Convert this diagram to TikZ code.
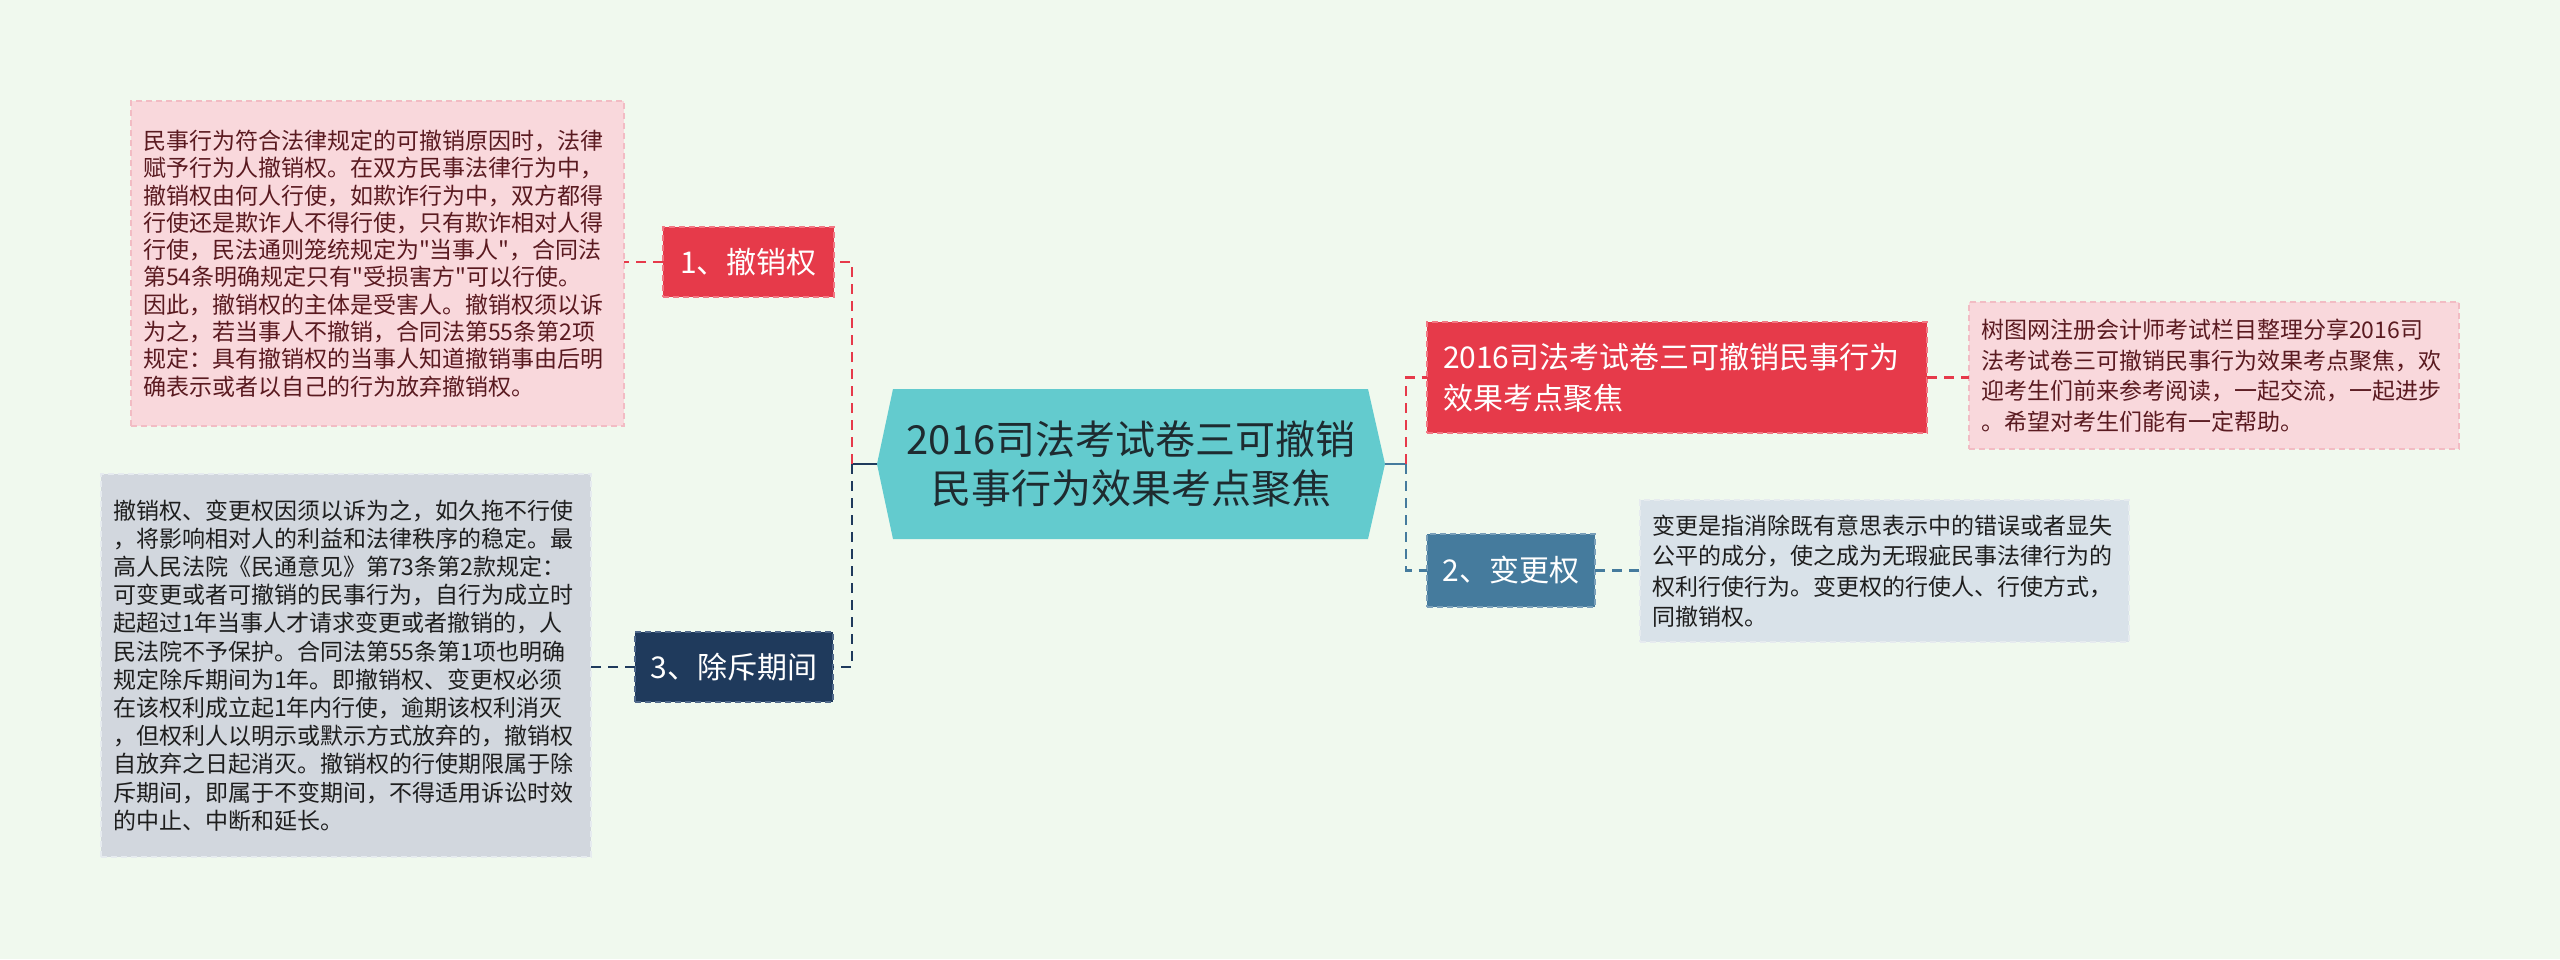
\documentclass[tikz,border=0pt]{standalone}
\usepackage{fontspec}
\setmainfont{Noto Sans CJK SC}[Ligatures=TeXOff]
\usetikzlibrary{backgrounds}
\definecolor{bg}{HTML}{F0F9EE}
\definecolor{pinkfill}{HTML}{F9D8DC}
\definecolor{pinkline}{HTML}{F2BCC4}
\definecolor{pinktext}{HTML}{5A1A20}
\definecolor{redfill}{HTML}{E63A4A}
\definecolor{redline}{HTML}{F27884}
\definecolor{navyfill}{HTML}{1F3A5C}
\definecolor{navyline}{HTML}{50688A}
\definecolor{steelfill}{HTML}{457B9D}
\definecolor{steelline}{HTML}{7AA0BA}
\definecolor{grayfill}{HTML}{D2D7DE}
\definecolor{grayfillb}{HTML}{D9E2E9}
\definecolor{grayline}{HTML}{E6EBEF}
\definecolor{graytext}{HTML}{1E1E1E}
\definecolor{tealfill}{HTML}{63CBCE}
\definecolor{centertext}{HTML}{1E2B30}
\begin{document}
\begin{tikzpicture}[x=1pt,y=-1pt,
  box/.style={rectangle, outer sep=0pt, inner ysep=0pt, line width=1.2pt, dash pattern=on 6pt off 4pt},
  notepink/.style={box, fill=pinkfill, draw=pinkline, text=pinktext, align=left, inner xsep=12pt,
     font=\fontsize{23}{27.3}\selectfont},
  notegray/.style={box, fill=grayfill, draw=grayline, text=graytext, align=left, inner xsep=12pt,
     font=\fontsize{23}{28.2}\selectfont},
  topicbox/.style={box, text=white, align=center, inner xsep=8pt, font=\fontsize{30}{36}\selectfont},
  link/.style={line width=2.5pt, dash pattern=on 10pt off 7pt},
]
\useasboundingbox (0,0) rectangle (2560,959);

% central topic
\node[rectangle, outer sep=0pt, inner sep=0pt, minimum width=508pt, minimum height=150pt,
      text=centertext, align=center, font=\fontsize{40}{49}\selectfont]
  (c) at (1131,464) {2016司法考试卷三可撤销\\民事行为效果考点聚焦};

% left branch
\node[topicbox, fill=redfill, draw=redline, minimum width=171pt, minimum height=70pt]
  (b1) at (748.5,262) {1、撤销权};
\node[notepink, text width=469pt, minimum width=493pt, minimum height=325pt]
  (n1) at (377.5,263.5) {民事行为符合法律规定的可撤销原因时，法律\\
赋予行为人撤销权。在双方民事法律行为中，\\
撤销权由何人行使，如欺诈行为中，双方都得\\
行使还是欺诈人不得行使，只有欺诈相对人得\\
行使，民法通则笼统规定为"当事人"，合同法\\
第54条明确规定只有"受损害方"可以行使。\\
因此，撤销权的主体是受害人。撤销权须以诉\\
为之，若当事人不撤销，合同法第55条第2项\\
规定：具有撤销权的当事人知道撤销事由后明\\
确表示或者以自己的行为放弃撤销权。};

\node[topicbox, fill=navyfill, draw=navyline, minimum width=198pt, minimum height=70pt]
  (b3) at (734,667) {3、除斥期间};
\node[notegray, text width=466pt, minimum width=490pt, minimum height=383pt]
  (n3) at (346,665.5) {撤销权、变更权因须以诉为之，如久拖不行使\\
，将影响相对人的利益和法律秩序的稳定。最\\
高人民法院《民通意见》第73条第2款规定：\\
可变更或者可撤销的民事行为，自行为成立时\\
起超过1年当事人才请求变更或者撤销的，人\\
民法院不予保护。合同法第55条第1项也明确\\
规定除斥期间为1年。即撤销权、变更权必须\\
在该权利成立起1年内行使，逾期该权利消灭\\
，但权利人以明示或默示方式放弃的，撤销权\\
自放弃之日起消灭。撤销权的行使期限属于除\\
斥期间，即属于不变期间，不得适用诉讼时效\\
的中止、中断和延长。};

% right branch
\node[box, fill=redfill, draw=redline, text=white, align=left, inner xsep=16pt,
      text width=468pt, minimum width=500pt, minimum height=111pt,
      font=\fontsize{30}{41}\selectfont]
  (b0) at (1677,377.5) {2016司法考试卷三可撤销民事行为\\效果考点聚焦};
\node[notepink, text width=466pt, minimum width=490pt, minimum height=147pt,
      font=\fontsize{23}{30.5}\selectfont]
  (n0) at (2214,375.5) {树图网注册会计师考试栏目整理分享2016司\\
法考试卷三可撤销民事行为效果考点聚焦，欢\\
迎考生们前来参考阅读，一起交流，一起进步\\
。希望对考生们能有一定帮助。};

\node[topicbox, fill=steelfill, draw=steelline, minimum width=168pt, minimum height=73pt]
  (b2) at (1511,570.5) {2、变更权};
\node[notegray, fill=grayfillb, text width=465pt, minimum width=489pt, minimum height=142pt,
      font=\fontsize{23}{30.5}\selectfont]
  (n2) at (1884.5,571) {变更是指消除既有意思表示中的错误或者显失\\
公平的成分，使之成为无瑕疵民事法律行为的\\
权利行使行为。变更权的行使人、行使方式，\\
同撤销权。};

% junctions
\coordinate (jl) at (852,464);
\coordinate (jr) at (1406,464);

% background layer: canvas and central hexagon
\begin{scope}[on background layer]
  \fill[bg] (0,0) rectangle (2560,959);
  \fill[tealfill] (c.west) -- ([xshift=16pt]c.north west) -- ([xshift=-17pt]c.north east)
    -- (c.east) -- ([xshift=-17pt]c.south east) -- ([xshift=16pt]c.south west) -- cycle;
\end{scope}

% connectors left
\draw[line width=2.5pt, navyfill] (c.west) -- (jl);
\draw[link, redfill] (jl) |- (b1.east);
\draw[link, navyfill] (jl) |- (b3.east);
\draw[link, redfill] (b1.west) -- (n1.east |- b1.west);
\draw[link, navyfill] (b3.west) -- (n3.east |- b3.west);

% connectors right
\draw[line width=2.5pt, steelfill] (c.east) -- (jr);
\draw[link, redfill] (jr) |- (b0.west);
\draw[link, steelfill] (jr) |- (b2.west);
\draw[link, redfill] (b0.east) -- (n0.west |- b0.east);
\draw[link, steelfill] (b2.east) -- (n2.west |- b2.east);
\end{tikzpicture}
\end{document}
